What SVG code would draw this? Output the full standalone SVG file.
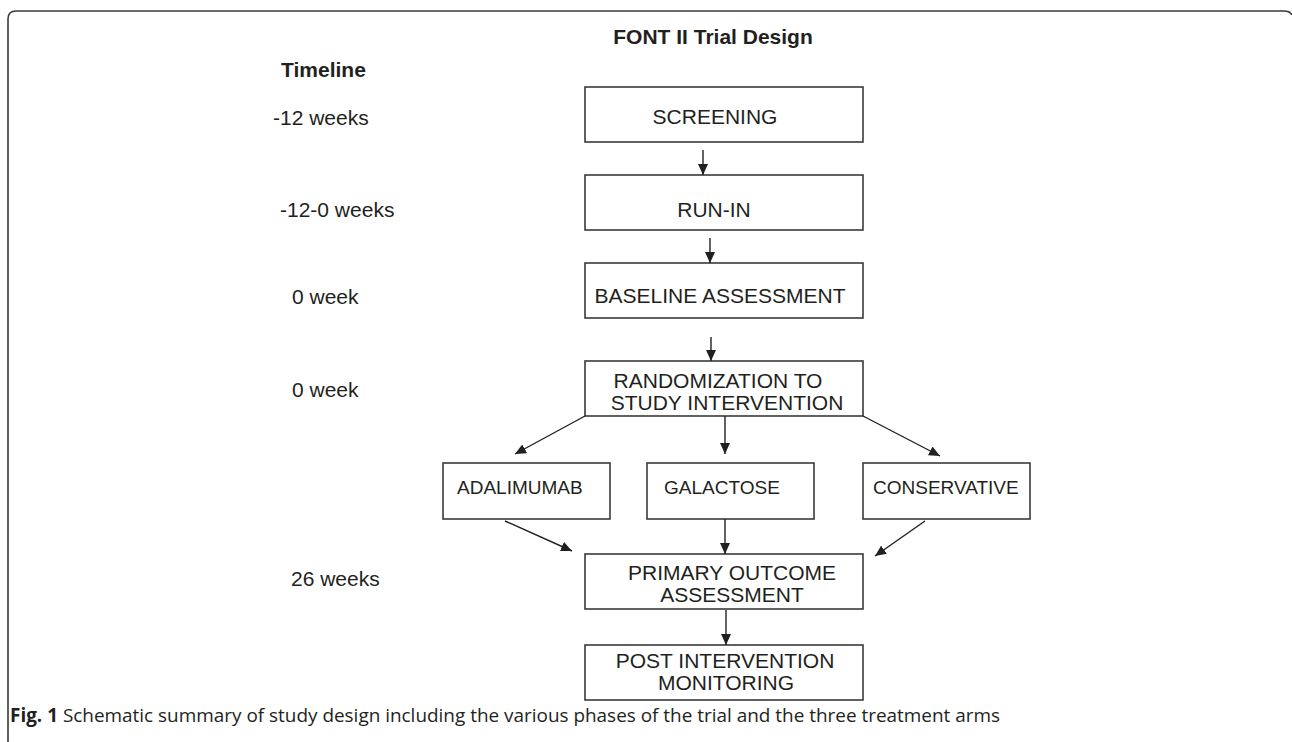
<svg xmlns="http://www.w3.org/2000/svg" width="1292" height="742" viewBox="0 0 1292 742">
<defs>
<marker id="ah" markerUnits="userSpaceOnUse" markerWidth="12" markerHeight="10" refX="11" refY="5" orient="auto">
<path d="M0,0 L11,5 L0,10 z" fill="#231f20"/>
</marker>
<style>
.box{fill:#fff;stroke:#3a3a3a;stroke-width:1.6}
.t{font-family:"Liberation Sans",Arial,sans-serif;font-size:21px;fill:#231f20;text-anchor:middle}
.ta{font-family:"Liberation Sans",Arial,sans-serif;font-size:19px;fill:#231f20}
.lab{font-family:"Liberation Sans",Arial,sans-serif;font-size:21px;fill:#231f20}
.b{font-family:"Liberation Sans",Arial,sans-serif;font-size:21px;font-weight:bold;fill:#231f20}
.cap{font-family:"Open Sans","Liberation Sans",sans-serif;font-size:19px;fill:#231f20}
.ln{stroke:#231f20;stroke-width:1.4;fill:none;marker-end:url(#ah)}
</style>
</defs>
<rect width="1292" height="742" fill="#fff"/>
<path d="M8,742 V19 Q8,11 16,11 H1284 Q1290,11 1292,15" fill="none" stroke="#3a3a3a" stroke-width="1.6"/>
<text class="b" x="713" y="44" text-anchor="middle">FONT II Trial Design</text>
<g id="timeline">
<text class="b" x="281" y="77">Timeline</text>
<text class="lab" x="273" y="125">-12 weeks</text>
<text class="lab" x="280" y="217">-12-0 weeks</text>
<text class="lab" x="292" y="304">0 week</text>
<text class="lab" x="292" y="397">0 week</text>
<text class="lab" x="291" y="586">26 weeks</text>
</g>
<g id="screening"><rect class="box" x="585" y="87" width="278" height="55"/><text class="t" x="715" y="124">SCREENING</text></g>
<g id="runin"><rect class="box" x="585" y="175" width="278" height="55"/><text class="t" x="714" y="217">RUN-IN</text></g>
<g id="baseline"><rect class="box" x="585" y="263" width="278" height="55"/><text class="t" x="720" y="303">BASELINE ASSESSMENT</text></g>
<g id="randomization"><rect class="box" x="585" y="361" width="278" height="55"/><text class="t" x="718" y="388">RANDOMIZATION TO</text><text class="t" x="727" y="410">STUDY INTERVENTION</text></g>
<g id="adalimumab"><rect class="box" x="443" y="463" width="167" height="56"/><text class="ta" x="457" y="494">ADALIMUMAB</text></g>
<g id="galactose"><rect class="box" x="647" y="463" width="167" height="56"/><text class="ta" x="664" y="494">GALACTOSE</text></g>
<g id="conservative"><rect class="box" x="863" y="463" width="167" height="56"/><text class="ta" x="873" y="494">CONSERVATIVE</text></g>
<g id="primary"><rect class="box" x="585" y="554" width="278" height="55"/><text class="t" x="732" y="580">PRIMARY OUTCOME</text><text class="t" x="732" y="602">ASSESSMENT</text></g>
<g id="post"><rect class="box" x="585" y="645" width="278" height="55"/><text class="t" x="725" y="668">POST INTERVENTION</text><text class="t" x="726" y="690">MONITORING</text></g>
<g id="connectors">
<line class="ln" x1="703" y1="150" x2="703" y2="175"/>
<line class="ln" x1="710" y1="238" x2="710" y2="263"/>
<line class="ln" x1="711" y1="337" x2="711" y2="361"/>
<line class="ln" x1="585" y1="416" x2="515" y2="454"/>
<line class="ln" x1="725" y1="416" x2="725" y2="454"/>
<line class="ln" x1="863" y1="416" x2="940" y2="456"/>
<line class="ln" x1="505" y1="521" x2="572" y2="551"/>
<line class="ln" x1="725" y1="519" x2="725" y2="554"/>
<line class="ln" x1="925" y1="521" x2="875" y2="556"/>
<line class="ln" x1="726" y1="610" x2="726" y2="645"/>
</g>
<text class="cap" x="10" y="722" textLength="990" lengthAdjust="spacingAndGlyphs"><tspan font-weight="bold">Fig. 1</tspan> Schematic summary of study design including the various phases of the trial and the three treatment arms</text>
</svg>
